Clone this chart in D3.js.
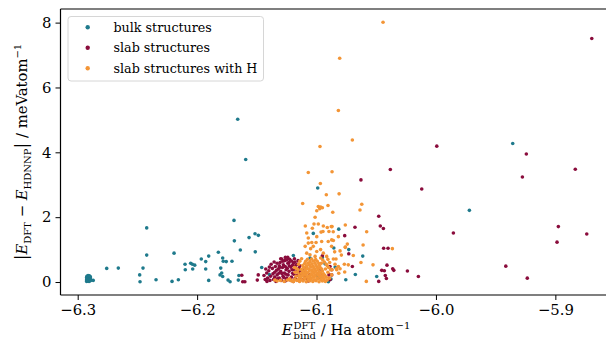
<!DOCTYPE html>
<html>
<head>
<meta charset="utf-8">
<script src="https://cdn.jsdelivr.net/npm/d3@7"></script>
<style>
  body { margin: 0; background: #fff; }
  svg { display: block; }
  text { white-space: pre; }
</style>
</head>
<body>
<svg id="chart" width="606" height="347"></svg>
<script>
// Binding energy (Ha/atom) vs. absolute DFT/HDNNP energy error (meV/atom)
const seriesNames = ["bulk structures", "slab structures", "slab structures with H"];
const seriesColors = ["#1f7a8c", "#8a0c3c", "#f39536"];
const xTicks = [-6.3, -6.2, -6.1, -6.0, -5.9];
const yTicks = [0, 2, 4, 6, 8];

const bulk = [
  [-6.2925,0.02],[-6.2926,0.06],[-6.2924,0.10],[-6.2925,0.14],[-6.2923,0.18],
  [-6.2915,0.03],[-6.2916,0.08],[-6.2914,0.12],[-6.2915,0.16],[-6.2913,0.20],
  [-6.2905,0.02],[-6.2906,0.07],[-6.2904,0.11],[-6.2905,0.15],[-6.2903,0.19],
  [-6.2895,0.04],[-6.2896,0.09],[-6.2894,0.13],[-6.2895,0.17],[-6.2888,0.06],
  [-6.2870,0.05],[-6.2757,0.42],[-6.2660,0.43],[-6.2422,1.67],[-6.2422,0.83],
  [-6.2453,0.43],[-6.2481,0.22],[-6.2478,0.01],[-6.2344,0.07],[-6.2210,0.02],
  [-6.2157,0.07],[-6.2193,0.89],[-6.2101,0.55],[-6.2099,0.38],[-6.2054,0.58],
  [-6.2040,0.55],[-6.2020,0.52],[-6.2037,0.40],[-6.1965,0.71],[-6.1928,0.63],
  [-6.1903,0.80],[-6.1928,0.40],[-6.1903,0.05],[-6.1822,0.92],[-6.1786,0.74],
  [-6.1781,0.64],[-6.1756,0.63],[-6.1708,0.64],[-6.1802,0.43],[-6.1794,0.28],
  [-6.1808,0.22],[-6.1786,0.17],[-6.1741,0.06],[-6.1724,0.01],[-6.1691,1.90],
  [-6.1688,1.27],[-6.1638,0.99],[-6.1565,1.37],[-6.1515,1.49],[-6.1487,1.44],
  [-6.1513,0.93],[-6.1650,0.20],[-6.1655,0.06],[-6.1459,0.45],[-6.1395,0.23],
  [-6.1194,0.82],[-6.1660,5.02],[-6.1593,3.78],[-6.0990,2.90],[-6.0814,1.63],
  [-6.1027,1.50],[-6.0730,1.00],[-6.0613,0.80],[-6.0675,0.23],[-6.0755,0.07],
  [-6.0496,0.17],[-6.0844,0.46],[-6.0901,0.01],[-6.0855,1.05],[-6.0951,0.76],
  [-6.0929,0.56],[-6.0977,0.15],[-5.9720,2.21],[-5.9357,4.27],[-6.1054,0.74],
  [-6.0879,0.09],[-6.1130,0.35],[-6.1000,0.20]
];

const slab = [
  [-5.8695,7.51],[-6.0382,3.47],[-6.0628,3.15],[-5.9993,4.19],[-5.9243,3.95],
  [-5.9276,3.24],[-5.8833,3.48],[-6.0119,2.87],[-6.0479,2.03],[-5.9854,1.51],
  [-6.0466,1.73],[-6.0440,1.65],[-6.0678,1.69],[-6.0764,1.43],[-6.0438,1.04],
  [-6.0401,1.04],[-6.0730,0.87],[-6.0700,0.48],[-6.0410,0.52],[-6.0454,0.36],
  [-6.0432,0.35],[-6.0362,0.41],[-6.0353,0.36],[-6.0239,0.34],[-6.0147,0.17],
  [-6.0424,0.20],[-6.0415,0.11],[-6.0479,0.02],[-5.8975,1.71],[-5.8737,1.48],
  [-5.8986,1.23],[-5.9415,0.49],[-5.9235,0.12],[-6.0951,0.81],
  [-6.1626,0.21],[-6.1618,0.01],[-6.1600,0.01],[-6.1496,0.06],[-6.1488,0.22],
  [-6.1417,0.28],
  [-6.1261,0.76],[-6.1241,0.76],[-6.1291,0.71],[-6.1208,0.65],[-6.1312,0.50],
  [-6.1278,0.53],[-6.1194,0.59],
  [-6.1400,0.35],[-6.1385,0.18],[-6.1370,0.42],[-6.1360,0.08],[-6.1350,0.30],
  [-6.1340,0.02],[-6.1330,0.22],[-6.1320,0.40],[-6.1312,0.12],[-6.1300,0.33],
  [-6.1295,0.05],[-6.1285,0.45],[-6.1280,0.18],[-6.1270,0.28],[-6.1262,0.03],
  [-6.1255,0.38],[-6.1250,0.12],[-6.1240,0.58],[-6.1238,0.22],[-6.1230,0.33],
  [-6.1225,0.07],[-6.1215,0.46],[-6.1210,0.15],[-6.1200,0.27],[-6.1195,0.02],
  [-6.1188,0.38],[-6.1180,0.10],[-6.1172,0.52],[-6.1165,0.20],[-6.1160,0.32],
  [-6.1150,0.05],[-6.1145,0.43],[-6.1138,0.14],[-6.1130,0.25],[-6.1120,0.36],
  [-6.1112,0.08],[-6.1100,0.19],[-6.1090,0.30],[-6.1080,0.11],[-6.1070,0.03],
  [-6.1060,0.22],[-6.1390,0.05],[-6.1345,0.48],[-6.1305,0.60],[-6.1268,0.66],
  [-6.1225,0.70],[-6.1180,0.62],[-6.1160,0.55],[-6.1275,0.14],[-6.1228,0.50],
  [-6.1140,0.30],[-6.1325,0.10],[-6.1365,0.25],[-6.1410,0.12],[-6.1290,0.26],
  [-6.1245,0.42],[-6.1205,0.38],[-6.1170,0.08],[-6.1190,0.24],[-6.1255,0.24],
  [-6.1335,0.36],[-6.1098,0.42],[-6.1050,0.10],
  [-6.1430,0.08],[-6.1440,0.20],[-6.1425,0.40],[-6.1380,0.55],[-6.1355,0.62],
  [-6.1330,0.58],[-6.1300,0.72],[-6.1282,0.64],[-6.1250,0.68],[-6.1200,0.52],
  [-6.1185,0.72],[-6.1155,0.66],[-6.1140,0.50],[-6.1395,0.46],[-6.1310,0.45],
  [-6.1350,0.15],[-6.1315,0.27],[-6.1262,0.48],[-6.1230,0.60],[-6.1415,0.02],
  [-6.0873,0.22],[-6.0887,0.07],[-6.0970,0.40],[-6.0887,0.48],[-6.0873,0.38],
  [-6.0957,0.19],[-6.0896,0.22]
];

const slabH = [
  [-6.0443,8.01],[-6.0806,6.90],[-6.0817,5.29],[-6.0700,4.38],[-6.0971,4.18],
  [-6.1069,3.38],[-6.0870,3.40],[-6.0968,3.04],[-6.0918,2.69],[-6.0811,2.72],
  [-6.1116,2.42],[-6.0985,2.33],[-6.0965,2.31],[-6.0951,2.29],[-6.0973,2.26],
  [-6.0904,2.36],[-6.0998,2.20],[-6.0864,2.15],[-6.1012,2.00],[-6.0621,2.40],
  [-6.0636,2.22],[-6.1094,1.73],[-6.1021,1.79],[-6.0985,1.79],[-6.1035,1.66],
  [-6.0943,1.73],[-6.0910,1.68],[-6.0946,1.56],[-6.0870,1.71],[-6.0759,1.76],
  [-6.1082,1.51],[-6.0962,1.54],[-6.0896,1.56],[-6.0860,1.55],[-6.0817,1.40],
  [-6.1069,1.36],[-6.0998,1.40],[-6.1040,1.22],[-6.1004,1.22],[-6.0957,1.25],
  [-6.0873,1.30],[-6.0580,1.55],[-6.0610,1.14],[-6.0365,1.03],[-6.0742,1.17],
  [-6.0759,1.07],[-6.0692,0.82],[-6.0628,0.60],[-6.0767,0.55],[-6.0734,0.53],
  [-6.0527,0.53],[-6.0583,0.02],[-6.0764,0.31],[-6.0814,0.27],[-6.0834,0.41],
  [-6.0803,0.41],[-6.0870,0.38],[-6.0817,0.48],[-6.0859,0.71],[-6.0837,0.71],
  [-6.0792,0.83],[-6.0803,0.96],[-6.0759,1.08],[-6.0848,0.93],[-6.0876,1.71],
  [-6.0859,1.28],[-6.0902,1.25],[-6.0874,1.10],[-6.0966,1.00],[-6.0943,0.89],
  [-6.0915,0.79],[-6.0845,0.55],[-6.0881,0.38],[-6.0831,0.38],[-6.0873,0.22],
  [-6.1095,1.10],[-6.1069,1.20],[-6.1049,1.03],[-6.1027,1.10],[-6.1082,0.89],
  [-6.1055,0.84],[-6.0998,0.94],[-6.1012,0.79],
  [-6.1142,0.02],[-6.1113,0.03],[-6.1086,0.01],[-6.1058,0.03],[-6.1031,0.02],
  [-6.1004,0.04],[-6.0979,0.01],[-6.0951,0.03],[-6.0926,0.02],
  [-6.1151,0.09],[-6.1124,0.07],[-6.1096,0.10],[-6.1069,0.08],[-6.1044,0.09],
  [-6.1016,0.07],[-6.0989,0.10],[-6.0964,0.08],[-6.0937,0.09],[-6.0911,0.06],
  [-6.1136,0.15],[-6.1104,0.13],[-6.1079,0.16],[-6.1053,0.14],[-6.1026,0.15],
  [-6.0997,0.13],[-6.0973,0.16],[-6.0946,0.14],[-6.0919,0.15],
  [-6.1146,0.21],[-6.1117,0.20],[-6.1091,0.22],[-6.1061,0.19],[-6.1037,0.21],
  [-6.1011,0.20],[-6.0984,0.22],[-6.0957,0.19],[-6.0931,0.21],
  [-6.1129,0.27],[-6.1101,0.26],[-6.1074,0.28],[-6.1047,0.25],[-6.1021,0.27],
  [-6.0993,0.26],[-6.0965,0.28],[-6.0941,0.25],
  [-6.1114,0.33],[-6.1087,0.31],[-6.1061,0.34],[-6.1032,0.32],[-6.1006,0.33],
  [-6.0977,0.31],[-6.0951,0.34],
  [-6.1126,0.39],[-6.1094,0.38],[-6.1067,0.40],[-6.1041,0.37],[-6.1013,0.39],
  [-6.0986,0.38],[-6.0957,0.40],
  [-6.1107,0.45],[-6.1081,0.44],[-6.1049,0.46],[-6.1023,0.43],[-6.0994,0.45],
  [-6.0969,0.44],
  [-6.1116,0.51],[-6.1084,0.50],[-6.1059,0.52],[-6.1029,0.49],[-6.1003,0.51],
  [-6.0974,0.50],
  [-6.1099,0.57],[-6.1071,0.58],[-6.1039,0.56],[-6.1013,0.58],[-6.0981,0.57],
  [-6.1091,0.64],[-6.1054,0.63],[-6.1026,0.65],[-6.0994,0.64],
  [-6.1076,0.70],[-6.1041,0.71],[-6.1007,0.69],
  [-6.0905,0.30],[-6.0898,0.45],[-6.0892,0.12],[-6.0918,0.55],[-6.0935,0.62],
  [-6.0925,0.40],[-6.1165,0.05],[-6.1172,0.18],[-6.1160,0.30],[-6.1168,0.42],
  [-6.1330,0.03],[-6.1302,0.05],[-6.1271,0.02],[-6.1243,0.06],[-6.1212,0.04],
  [-6.1183,0.08],[-6.1196,0.02],[-6.1225,0.10],[-6.1350,0.06],
  [-6.1222,0.07],[-6.1194,0.02],
  [-6.1150,0.55],[-6.1140,0.64],[-6.1125,0.72],[-6.0960,0.58],[-6.0948,0.68],
  [-6.0965,0.74],[-6.0910,0.50],[-6.0890,0.60],[-6.0905,0.70],[-6.1180,0.30],
  [-6.1185,0.45],[-6.1155,0.38]
];

const seriesData = [bulk, slab, slabH];

const FONT = "DejaVu Serif";
const svg = d3.select("#chart");
const W = 606, H = 347;
const plot = { left: 60.5, right: 616.5, top: 9, bottom: 295 };

const x = d3.scaleLinear().domain([-6.3144, -5.8488]).range([plot.left, plot.right]);
const y = d3.scaleLinear().domain([-0.4, 8.42]).range([plot.bottom, plot.top]);

// scatter points, drawn in legend order
seriesData.forEach((data, i) => {
  svg.append("g")
    .selectAll("circle")
    .data(data)
    .join("circle")
    .attr("cx", d => x(d[0]))
    .attr("cy", d => y(d[1]))
    .attr("r", 1.8)
    .attr("fill", seriesColors[i]);
});

// axes
const xAxis = d3.axisBottom(x).tickValues(xTicks).tickSize(5).tickSizeOuter(0)
  .tickPadding(4).tickFormat(d3.format(".1f"));
const yAxis = d3.axisLeft(y).tickValues(yTicks).tickSize(5).tickSizeOuter(0)
  .tickPadding(4).tickFormat(d3.format("d"));

const gx = svg.append("g").attr("transform", `translate(0,${plot.bottom})`).call(xAxis);
const gy = svg.append("g").attr("transform", `translate(${plot.left},0)`).call(yAxis);
[gx, gy].forEach(g => {
  g.select(".domain").remove();
  g.selectAll(".tick line").attr("stroke", "#000").attr("stroke-width", 1);
  g.selectAll(".tick text").attr("fill", "#000")
    .attr("font-family", FONT).attr("font-size", 14.8);
});

// spines (top, left, bottom)
const spine = svg.append("g").attr("stroke", "#000").attr("stroke-width", 1.2).attr("fill", "none");
spine.append("line").attr("x1", plot.left).attr("x2", W).attr("y1", plot.top).attr("y2", plot.top);
spine.append("line").attr("x1", plot.left).attr("x2", W).attr("y1", plot.bottom).attr("y2", plot.bottom);
spine.append("line").attr("x1", plot.left).attr("x2", plot.left).attr("y1", plot.top).attr("y2", plot.bottom);

// y-axis label: |E_DFT − E_HDNNP| / meVatom^-1
const yl = svg.append("text")
  .attr("transform", `translate(27,${(plot.top + plot.bottom) / 2}) rotate(-90)`)
  .attr("text-anchor", "middle")
  .attr("font-family", FONT).attr("font-size", 14.8).attr("fill", "#000");
yl.append("tspan").attr("font-size", 17).text("|");
yl.append("tspan").attr("font-style", "italic").text("E");
yl.append("tspan").attr("font-size", 10).attr("dy", 3.5).text("DFT");
yl.append("tspan").attr("dy", -3.5).text(" − ");
yl.append("tspan").attr("font-style", "italic").text("E");
yl.append("tspan").attr("font-size", 10).attr("dy", 3.5).text("HDNNP");
yl.append("tspan").attr("font-size", 17).attr("dy", -3.5).text("|");
yl.append("tspan").text(" / meVatom");
yl.append("tspan").attr("font-size", 10).attr("dy", -6.5).text("−1");

// x-axis label: E_bind^DFT / Ha atom^-1 (stacked sub/superscript)
const xl = svg.append("g").attr("font-family", FONT).attr("fill", "#000");
const e = xl.append("text").attr("font-size", 14.8).attr("font-style", "italic").text("E");
const eW = e.node().getComputedTextLength() + 1;
const sup = xl.append("text").attr("x", eW).attr("y", -6).attr("font-size", 10).text("DFT");
const sub = xl.append("text").attr("x", eW).attr("y", 4).attr("font-size", 10).text("bind");
const sW = Math.max(sup.node().getComputedTextLength(), sub.node().getComputedTextLength());
const rest = xl.append("text").attr("x", eW + sW).attr("font-size", 14.8).text(" / Ha atom");
const rW = rest.node().getComputedTextLength();
const sup2 = xl.append("text").attr("x", eW + sW + rW + 1).attr("y", -6).attr("font-size", 10).text("−1");
const total = eW + sW + rW + 1 + sup2.node().getComputedTextLength();
xl.attr("transform", `translate(${346 - total / 2},335)`);

// legend
const lg = svg.append("g").attr("transform", "translate(68,16.5)");
lg.append("rect").attr("width", 195.5).attr("height", 64.5).attr("rx", 3)
  .attr("fill", "#fff").attr("fill-opacity", 0.8)
  .attr("stroke", "#d6d6d6").attr("stroke-width", 1);
seriesNames.forEach((name, i) => {
  const row = lg.append("g").attr("transform", `translate(0,${10.8 + i * 20.5})`);
  row.append("circle").attr("cx", 19.7).attr("cy", 0).attr("r", 2.2).attr("fill", seriesColors[i]);
  row.append("text").attr("x", 45.5).attr("y", 4.3)
    .attr("font-family", FONT).attr("font-size", 12.7).attr("fill", "#000").text(name);
});
</script>
</body>
</html>
